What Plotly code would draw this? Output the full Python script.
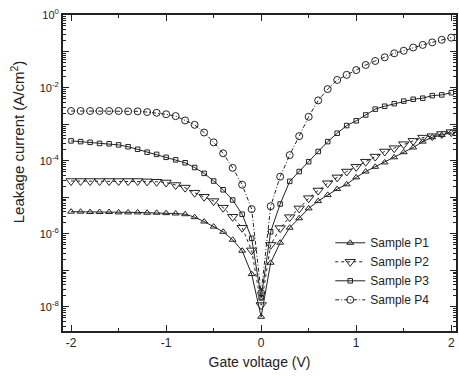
import numpy as np
import plotly.graph_objects as go

# Gate voltage (V)
voltage = [round(-2 + 0.1 * i, 1) for i in range(41)]

# log10 of leakage current density (A/cm^2)
log_j_p1 = [-5.39, -5.39, -5.40, -5.40, -5.40, -5.41, -5.41, -5.41, -5.42, -5.42,
            -5.43, -5.44, -5.46, -5.54, -5.66, -5.80, -5.94, -6.16, -6.46, -7.10,
            -8.27,
            -6.79, -6.24, -5.83, -5.57, -5.30, -5.10, -4.93, -4.77, -4.64, -4.45,
            -4.29, -4.16, -4.04, -3.90, -3.76, -3.63, -3.47, -3.35, -3.29, -3.22]
log_j_p2 = [-4.55, -4.55, -4.55, -4.55, -4.55, -4.55, -4.55, -4.55, -4.56, -4.57,
            -4.59, -4.66, -4.73, -4.87, -4.98, -5.10, -5.28, -5.53, -5.83, -6.45,
            -7.95,
            -6.30, -5.84, -5.54, -5.30, -5.02, -4.81, -4.61, -4.45, -4.29, -4.16,
            -4.02, -3.88, -3.74, -3.65, -3.54, -3.45, -3.36, -3.32, -3.26, -3.21]
log_j_p3 = [-3.45, -3.47, -3.49, -3.52, -3.53, -3.56, -3.61, -3.68, -3.76, -3.82,
            -3.90, -3.97, -4.05, -4.18, -4.34, -4.55, -4.79, -5.07, -5.46, -6.12,
            -7.75,
            -5.94, -5.18, -4.56, -4.29, -4.02, -3.74, -3.47, -3.24, -3.03, -2.90,
            -2.74, -2.58, -2.50, -2.43, -2.36, -2.31, -2.28, -2.21, -2.19, -2.13]
log_j_p4 = [-2.63, -2.63, -2.63, -2.63, -2.63, -2.63, -2.64, -2.64, -2.66, -2.68,
            -2.72, -2.77, -2.89, -3.01, -3.22, -3.49, -3.79, -4.19, -4.65, -5.32,
            -7.62,
            -5.24, -4.43, -3.84, -3.32, -2.79, -2.34, -2.03, -1.78, -1.64, -1.51,
            -1.37, -1.26, -1.16, -1.05, -0.98, -0.89, -0.82, -0.75, -0.68, -0.62]

names = ["Sample P1", "Sample P2", "Sample P3", "Sample P4"]
x_ticks = [-2, -1, 0, 1, 2]
x_minor = [-1.5, -0.5, 0.5, 1.5]
y_decades = [0, -1, -2, -3, -4, -5, -6, -7, -8]
y_labels = ["10<sup>0</sup>", "", "10<sup>-2</sup>", "", "10<sup>-4</sup>", "",
            "10<sup>-6</sup>", "", "10<sup>-8</sup>"]

styles = [
    dict(symbol="triangle-up-open", size=6, dash="solid"),
    dict(symbol="triangle-down-open", size=9, dash="dot"),
    dict(symbol="square-open", size=4.5, dash="solid"),
    dict(symbol="circle-open", size=7, dash="4px,2px,1px,2px"),
]

fig = go.Figure()
for name, lj, st in zip(names, [log_j_p1, log_j_p2, log_j_p3, log_j_p4], styles):
    fig.add_trace(go.Scatter(
        x=voltage, y=10 ** np.array(lj), name=name, mode="lines+markers",
        line=dict(color="#222", width=1, dash=st["dash"]),
        marker=dict(symbol=st["symbol"], size=st["size"], color="#222",
                    line=dict(color="#222", width=1)),
    ))

minor_y = [m * 10.0 ** d for d in range(-9, 0) for m in range(2, 10)]

fig.update_layout(
    width=459, height=376,
    margin=dict(l=63, r=1, t=15, b=45),
    paper_bgcolor="white", plot_bgcolor="white",
    font=dict(family="Arial, Liberation Sans, sans-serif", size=12, color="#222"),
    showlegend=True,
    legend=dict(x=0.68, y=0.325, xanchor="left", yanchor="top",
                bgcolor="rgba(0,0,0,0)", font=dict(size=12),
                itemwidth=30, tracegroupgap=0),
    xaxis=dict(
        range=[-2.085, 2.05], showgrid=False, zeroline=False,
        showline=True, linecolor="#222", linewidth=2, mirror="ticks",
        ticks="inside", ticklen=6, tickwidth=1, tickcolor="#222",
        tickmode="array", tickvals=x_ticks, ticktext=[str(v) for v in x_ticks],
        minor=dict(tickmode="array", tickvals=x_minor, ticks="inside", ticklen=3,
                   tickcolor="#222", showgrid=False),
        title=dict(text="Gate voltage (V)", font=dict(size=14), standoff=8),
        tickfont=dict(size=12),
    ),
    yaxis=dict(
        type="log", range=[-8.66, 0], showgrid=False, zeroline=False,
        showline=True, linecolor="#222", linewidth=2, mirror="ticks",
        ticks="inside", ticklen=6, tickwidth=1, tickcolor="#222",
        tickmode="array", tickvals=[10.0 ** d for d in y_decades], ticktext=y_labels,
        minor=dict(tickmode="array", tickvals=minor_y, ticks="inside", ticklen=3,
                   tickcolor="#222", showgrid=False),
        tickfont=dict(size=11),
    ),
    annotations=[dict(
        text="Leakage current (A/cm<sup>2</sup>)", textangle=-90,
        xref="paper", yref="paper", x=-0.1165, y=0.598,
        xanchor="center", yanchor="middle", showarrow=False,
        font=dict(size=15, color="#222"),
    )],
)

fig.write_html("out.html")
